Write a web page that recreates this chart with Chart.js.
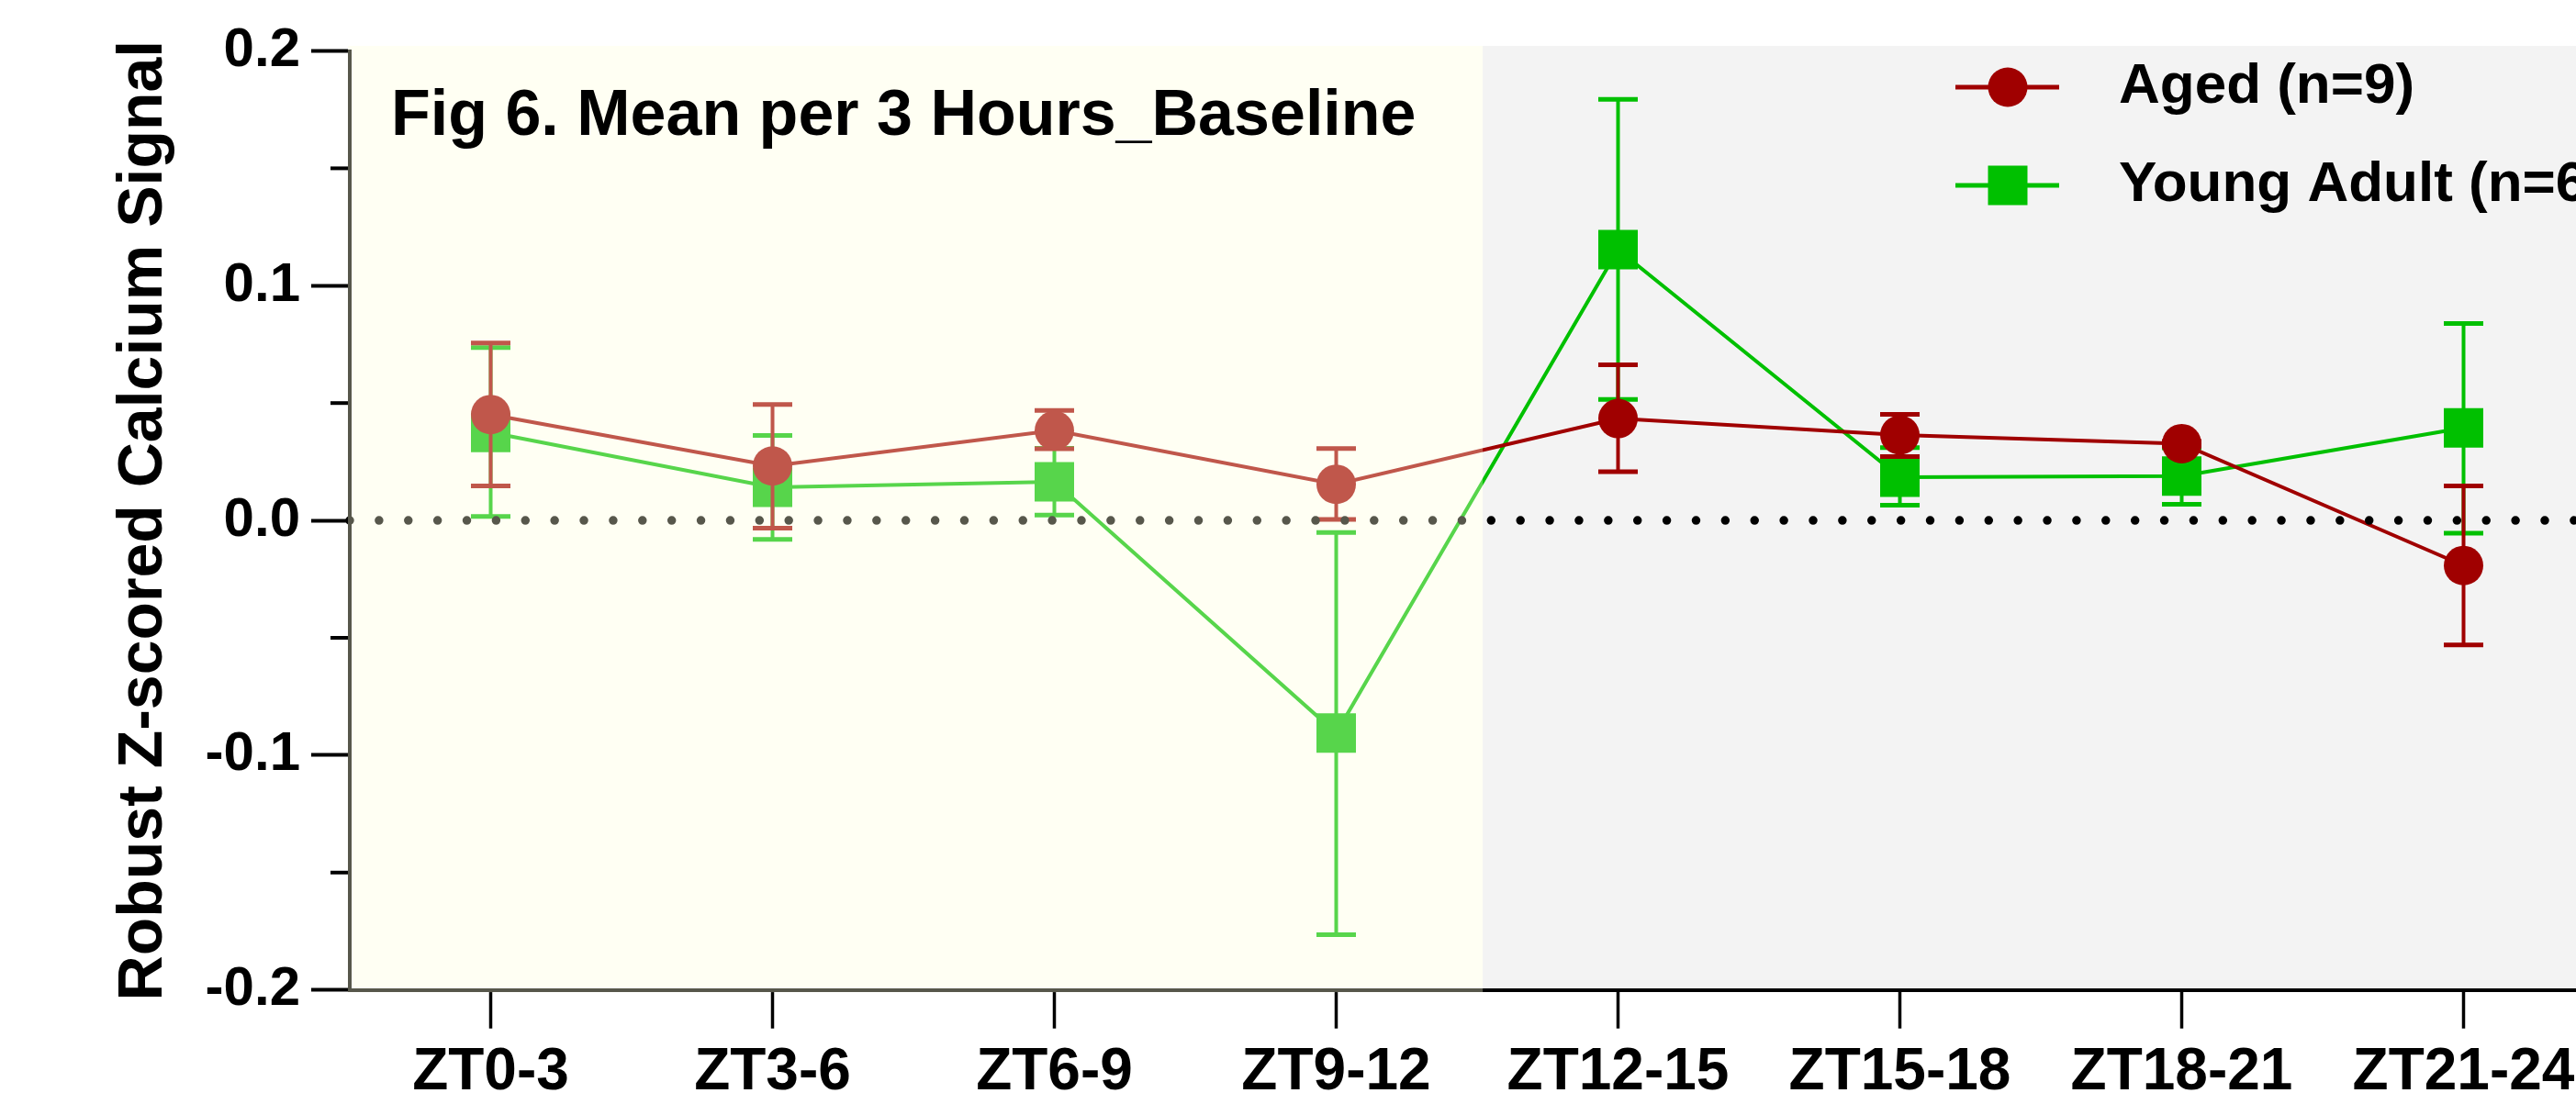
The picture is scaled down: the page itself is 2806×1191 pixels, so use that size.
<!DOCTYPE html>
<html lang="en">
<head>
  <meta charset="UTF-8">
  <title>Fig 6. Mean per 3 Hours_Baseline</title>
  <style>
    body {
      margin: 0;
      background: #ffffff;
    }

    .chart-box {
      width: 2806px;
      height: 1191px;
    }
  </style>
</head>
<body>
  <div class="chart-box">
    <canvas id="chart"></canvas>
  </div>

  <script src="https://cdn.jsdelivr.net/npm/chart.js"></script>
  <script>
    // Values
    const categories = ["ZT0-3", "ZT3-6", "ZT6-9", "ZT9-12", "ZT12-15", "ZT15-18", "ZT18-21", "ZT21-24"];

    const agedMean  = [0.0451, 0.0232, 0.0383, 0.0154, 0.0434, 0.0364, 0.0327, -0.0192];
    const agedUpper = [0.0756, 0.0494, 0.0469, 0.0306, 0.0663, 0.0452, 0.0337, 0.0147];
    const agedLower = [0.0147, -0.0033, 0.0305, 0.0004, 0.0208, 0.0272, 0.0317, -0.0530];

    const youngMean  = [0.0375, 0.0141, 0.0165, -0.0906, 0.1154, 0.0184, 0.0189, 0.0394];
    const youngUpper = [0.0736, 0.0362, 0.0307, -0.0051, 0.1794, 0.0310, 0.0309, 0.0839];
    const youngLower = [0.0017, -0.0081, 0.0023, -0.1765, 0.0515, 0.0065, 0.0069, -0.0054];

    const yMinorTicks = [-0.15, -0.05, 0.05, 0.15];
    const lightPhaseEnd = 3.52; // light/dark boundary, in category units

    const FONT = '"Liberation Sans", Arial, Helvetica, sans-serif';
    Chart.defaults.font.family = FONT;
    Chart.defaults.color = "#000";

    const AGED = "#a00000";
    const YOUNG = "#00c000";

    // Draws a marker the same way for the plot and the legend
    function drawMarker(ctx, style, r, x, y, color) {
      ctx.fillStyle = color;
      ctx.beginPath();
      if (style === "rect") {
        const h = r * Math.SQRT1_2;
        ctx.rect(x - h, y - h, 2 * h, 2 * h);
      } else {
        ctx.arc(x, y, r, 0, Math.PI * 2);
      }
      ctx.fill();
    }

    const panelPlugin = {
      id: "panel",
      beforeDraw(chart) {
        const { ctx, chartArea: a, scales: { x } } = chart;
        ctx.save();
        ctx.fillStyle = "#ffffff";
        ctx.fillRect(0, 0, chart.width, chart.height);
        // dark phase background
        const xEnd = x.getPixelForValue(lightPhaseEnd);
        ctx.fillStyle = "#f3f3f3";
        ctx.fillRect(xEnd, a.top - 5.5, a.right - xEnd, a.bottom - a.top + 5.5);
        ctx.restore();
      },
      beforeDatasetDraw(chart, args) {
        // error bars under each dataset's own line and markers
        const { ctx, scales: { x, y } } = chart;
        const ds = chart.data.datasets[args.index];
        ctx.save();
        ctx.strokeStyle = ds.borderColor;
        ds.data.forEach((p, i) => {
          const xp = x.getPixelForValue(p.x);
          const yl = y.getPixelForValue(ds.errLow[i]);
          const yh = y.getPixelForValue(ds.errHigh[i]);
          ctx.lineWidth = 4;
          ctx.beginPath();
          ctx.moveTo(xp, yl);
          ctx.lineTo(xp, yh);
          ctx.stroke();
          ctx.lineWidth = 5;
          ctx.beginPath();
          ctx.moveTo(xp - 21.5, yh);
          ctx.lineTo(xp + 21.5, yh);
          ctx.moveTo(xp - 21.5, yl);
          ctx.lineTo(xp + 21.5, yl);
          ctx.stroke();
        });
        ctx.restore();
      },
      afterDatasetsDraw(chart) {
        const { ctx, chartArea: a, scales: { x, y } } = chart;
        ctx.save();

        // dotted line at y = 0
        const y0 = y.getPixelForValue(0);
        ctx.strokeStyle = "#000";
        ctx.lineWidth = 9.5;
        ctx.lineCap = "round";
        ctx.setLineDash([0, 31.88]);
        ctx.beginPath();
        ctx.moveTo(a.left, y0);
        ctx.lineTo(a.right, y0);
        ctx.stroke();
        ctx.setLineDash([]);
        ctx.lineCap = "butt";

        // light phase tint laid over the left part
        const xEnd = x.getPixelForValue(lightPhaseEnd);
        ctx.fillStyle = "rgba(255, 255, 220, 0.34)";
        ctx.fillRect(a.left - 2, a.top - 5.5, xEnd - a.left + 2, a.bottom - a.top + 8);

        // minor ticks on the y axis
        ctx.strokeStyle = "#000";
        ctx.lineWidth = 4;
        yMinorTicks.forEach((v) => {
          const yp = y.getPixelForValue(v);
          ctx.beginPath();
          ctx.moveTo(a.left - 21, yp);
          ctx.lineTo(a.left - 2, yp);
          ctx.stroke();
        });

        // panel title
        ctx.fillStyle = "#000";
        ctx.font = "bold 70px " + FONT;
        ctx.textAlign = "left";
        ctx.textBaseline = "alphabetic";
        ctx.fillText("Fig 6. Mean per 3 Hours_Baseline", 426, 147);
        ctx.restore();
      },
      afterDraw(chart) {
        // legend in the upper right corner
        const { ctx } = chart;
        const rows = [
          { ds: chart.data.datasets[0], y: 95 },
          { ds: chart.data.datasets[1], y: 202 },
        ];
        ctx.save();
        rows.forEach((row) => {
          ctx.strokeStyle = row.ds.borderColor;
          ctx.lineWidth = 5;
          ctx.beginPath();
          ctx.moveTo(2130, row.y);
          ctx.lineTo(2243, row.y);
          ctx.stroke();
          drawMarker(ctx, row.ds.pointStyle, row.ds.pointRadius, 2187, row.y, row.ds.borderColor);
          ctx.fillStyle = "#000";
          ctx.font = "bold 62px " + FONT;
          ctx.textAlign = "left";
          ctx.textBaseline = "middle";
          ctx.fillText(row.ds.label, 2308, row.y);
        });
        ctx.restore();
      },
    };

    function series(label, color, style, radius, mean, lower, upper) {
      return {
        label: label,
        data: mean.map((v, i) => ({ x: i, y: v })),
        errLow: lower,
        errHigh: upper,
        borderColor: color,
        backgroundColor: color,
        borderWidth: 4,
        tension: 0,
        pointStyle: style,
        pointRadius: radius,
        pointHoverRadius: radius,
        pointBorderWidth: 0,
        pointBackgroundColor: color,
      };
    }

    new Chart(document.getElementById("chart"), {
      type: "line",
      data: {
        datasets: [
          series("Aged (n=9)", AGED, "circle", 21.5, agedMean, agedLower, agedUpper),
          series("Young Adult (n=6)", YOUNG, "rect", 30.4, youngMean, youngLower, youngUpper),
        ],
      },
      options: {
        responsive: true,
        maintainAspectRatio: false,
        animation: false,
        layout: {
          autoPadding: false,
          padding: { top: 55.5, left: 0, right: 0, bottom: 0 },
        },
        plugins: {
          legend: { display: false },
          tooltip: { enabled: false },
        },
        scales: {
          x: {
            type: "linear",
            min: -0.5,
            max: 7.399,
            afterBuildTicks: (s) => {
              s.ticks = categories.map((c, i) => ({ value: i }));
            },
            afterFit: (s) => {
              s.height = 112.3;
              s.paddingLeft = 0;
              s.paddingRight = 0;
            },
            grid: {
              drawOnChartArea: false,
              drawTicks: true,
              tickLength: 42,
              tickWidth: 3.5,
              tickColor: "#000",
            },
            border: { display: true, color: "#000", width: 4 },
            ticks: {
              autoSkip: false,
              maxRotation: 0,
              padding: 10,
              color: "#000",
              font: { size: 64, weight: "bold" },
              callback: (v) => categories[Math.round(v)] ?? "",
            },
          },
          y: {
            min: -0.2,
            max: 0.2,
            afterFit: (s) => {
              s.width = 381;
              s.paddingTop = 0;
              s.paddingBottom = 0;
            },
            grid: {
              drawOnChartArea: false,
              drawTicks: true,
              tickLength: 42,
              tickWidth: 4,
              tickColor: "#000",
            },
            border: { display: true, color: "#000", width: 4 },
            ticks: {
              stepSize: 0.1,
              padding: 12,
              color: "#000",
              font: { size: 60, weight: "bold" },
              callback: (v) => (Math.abs(v) < 1e-9 ? 0 : v).toFixed(1),
            },
            title: {
              display: true,
              text: "Robust Z-scored Calcium Signal",
              color: "#000",
              font: { size: 68, weight: "bold", lineHeight: 1 },
              padding: { top: 123, bottom: 0 },
            },
          },
        },
      },
      plugins: [panelPlugin],
    });
  </script>
</body>
</html>
